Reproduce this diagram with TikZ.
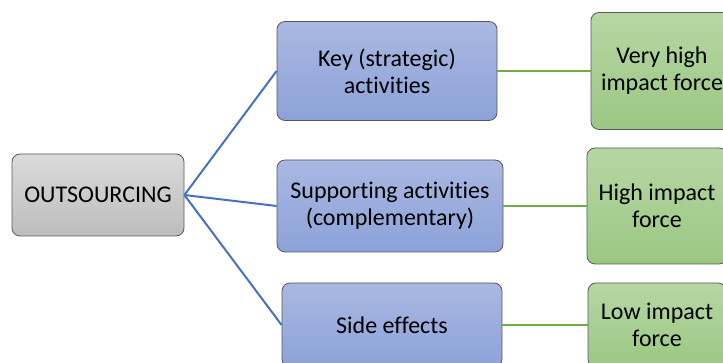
\documentclass[tikz,border=0pt]{standalone}
\usepackage{fontspec}
\setmainfont{Carlito}[Ligatures=NoCommon]
\usepackage{tikz}

\definecolor{grayTop}{HTML}{DADADA}
\definecolor{grayBot}{HTML}{BDBDBD}
\definecolor{blueTop}{HTML}{AAB8E2}
\definecolor{blueBot}{HTML}{8CA2D8}
\definecolor{greenTop}{HTML}{B6D7A3}
\definecolor{greenBot}{HTML}{9BC783}
\definecolor{blueLine}{HTML}{4472C4}
\definecolor{greenLine}{HTML}{70AD47}

\tikzset{
  box/.style={draw=black!65, line width=0.8pt, rounded corners=8pt, align=center,
    font=\fontsize{24}{27}\selectfont, inner sep=2pt},
  rootbox/.style={box, top color=grayTop, bottom color=grayBot},
  actbox/.style={box, top color=blueTop, bottom color=blueBot},
  forcebox/.style={box, top color=greenTop, bottom color=greenBot},
  toact/.style={draw=blueLine, line width=2pt},
  toforce/.style={draw=greenLine, line width=2pt}
}

\begin{document}
\begin{tikzpicture}[x=1pt,y=1pt]
\useasboundingbox (0,0) rectangle (723,363);
\node[rootbox, minimum width=172pt, minimum height=82pt] (outsourcing) at (98,168) {OUTSOURCING};

\node[actbox, minimum width=220pt, minimum height=99pt] (key) at (387,292) {Key (strategic)\\activities};
\node[actbox, minimum width=226pt, minimum height=92pt] (supporting) at (390,157) {Supporting activities\\(complementary)};
\node[actbox, minimum width=220pt, minimum height=84pt] (side) at (392,38) {Side effects};

\node[forcebox, minimum width=142pt, minimum height=117pt] (veryhigh) at (662,292) {Very high\\impact force};
\node[forcebox, minimum width=140pt, minimum height=116pt] (high) at (657,157) {High impact\\force};
\node[forcebox, minimum width=138pt, minimum height=84pt] (low) at (657,38) {Low impact\\force};

\draw[toact] (outsourcing.east) -- (key.west);
\draw[toact] (outsourcing.east) -- (supporting.west);
\draw[toact] (outsourcing.east) -- (side.west);

\draw[toforce] (key.east) -- (veryhigh.west);
\draw[toforce] (supporting.east) -- (high.west);
\draw[toforce] (side.east) -- (low.west);
\end{tikzpicture}
\end{document}
